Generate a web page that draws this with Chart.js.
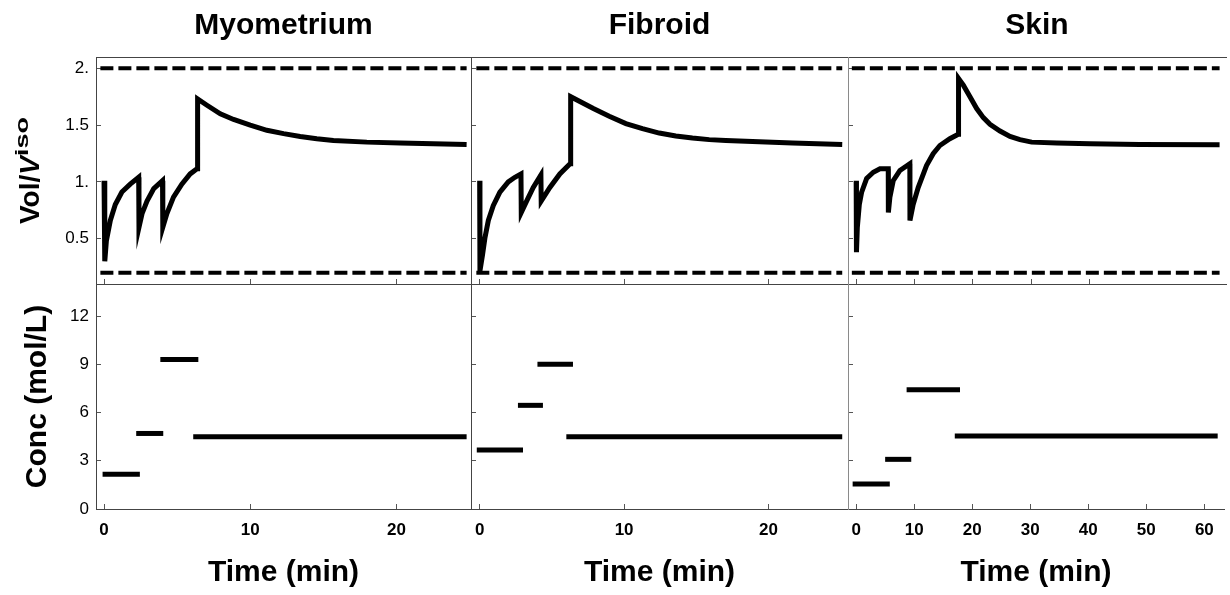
<!DOCTYPE html>
<html>
<head>
<meta charset="utf-8">
<title>Vol/Viso and Conc vs Time</title>
<script src="https://cdn.jsdelivr.net/npm/chart.js@4.4.1/dist/chart.umd.min.js"></script>
<style>
  html, body { margin: 0; padding: 0; background: #fff; }
  #wrap { position: relative; width: 1230px; height: 595px; overflow: hidden; }
  #wrap canvas { position: absolute; left: 0; top: 0; }
</style>
</head>
<body>
<div id="wrap">
  <canvas id="myo-vol" width="1230" height="595"></canvas>
  <canvas id="fib-vol" width="1230" height="595"></canvas>
  <canvas id="skin-vol" width="1230" height="595"></canvas>
  <canvas id="myo-conc" width="1230" height="595"></canvas>
  <canvas id="fib-conc" width="1230" height="595"></canvas>
  <canvas id="skin-conc" width="1230" height="595"></canvas>
</div>
<script>
// Panel titles
const tissues = ['Myometrium', 'Fibroid', 'Skin'];

// Relative cell volume (Vol/Viso) over time
const myoTime = [0, 0.05, 0.16, 0.43, 0.77, 1.22, 1.79, 2.37, 2.39, 2.6, 2.94, 3.4, 4.0, 4.02, 4.3, 4.75, 5.32, 5.89, 6.36, 6.4, 7.04, 7.95, 8.86, 10.0, 11.14, 12.28, 13.42, 14.55, 15.69, 17.97, 20.25, 24.8];
const myoVol = [1.01, 0.3, 0.48, 0.66, 0.8, 0.91, 0.98, 1.04, 0.6, 0.72, 0.83, 0.94, 1.01, 0.6, 0.72, 0.865, 0.98, 1.07, 1.115, 1.73, 1.675, 1.6, 1.55, 1.5, 1.454, 1.425, 1.4, 1.38, 1.365, 1.35, 1.342, 1.33];

const fibTime = [0, 0.02, 0.2, 0.37, 0.6, 0.94, 1.4, 1.98, 2.44, 2.86, 2.88, 3.25, 3.71, 4.24, 4.26, 4.86, 5.55, 6.26, 6.3, 7.87, 8.97, 10.12, 11.27, 12.43, 13.58, 14.73, 15.89, 17.04, 19.35, 21.66, 25.1];
const fibVol = [1.01, 0.215, 0.36, 0.51, 0.66, 0.79, 0.91, 1.0, 1.04, 1.07, 0.73, 0.83, 0.95, 1.06, 0.83, 0.95, 1.07, 1.16, 1.75, 1.646, 1.578, 1.513, 1.469, 1.43, 1.404, 1.386, 1.372, 1.365, 1.354, 1.342, 1.33];

const skinTime = [0, 0.05, 0.2, 0.54, 0.94, 1.8, 2.94, 4.08, 5.5, 5.52, 5.78, 6.35, 7.5, 9.2, 9.22, 9.77, 10.63, 12.06, 13.2, 14.35, 16.06, 17.5, 17.55, 18.37, 19.51, 20.66, 21.8, 22.94, 24.66, 26.37, 28.08, 30.08, 34.4, 40.1, 48.6, 62.3];
const skinVol = [1.01, 0.38, 0.6, 0.8, 0.91, 1.03, 1.085, 1.115, 1.115, 0.73, 0.865, 1.01, 1.1, 1.16, 0.66, 0.8, 0.95, 1.144, 1.248, 1.32, 1.38, 1.42, 1.91, 1.852, 1.75, 1.646, 1.566, 1.507, 1.448, 1.4, 1.372, 1.35, 1.342, 1.336, 1.33, 1.327];

// Osmotic tolerance limits (dashed lines) and how far they run on each panel
const volLimits = [0.2, 2.0];
const myoLimitSpan = [-0.25, 24.8];
const fibLimitSpan = [-0.23, 25.1];
const skinLimitSpan = [-0.74, 62.3];

// CPA concentration steps: start time, end time, level (mol/L)
const myoConcStart = [-0.1, 2.2, 3.85, 6.1];
const myoConcEnd = [2.45, 4.05, 6.45, 24.8];
const myoConcLevel = [2.16, 4.7, 9.3, 4.49];

const fibConcStart = [-0.2, 2.65, 4.0, 6.0];
const fibConcEnd = [3.0, 4.38, 6.46, 25.1];
const fibConcLevel = [3.67, 6.45, 9.0, 4.49];

const skinConcStart = [-0.6, 5.0, 8.7, 17.0];
const skinConcEnd = [5.8, 9.5, 17.9, 62.3];
const skinConcLevel = [1.56, 3.09, 7.42, 4.55];

// Axis ranges and ticks
const volRange = [0.1, 2.1];
const volTicks = [0.5, 1, 1.5, 2];
const volTickLabels = ['0.5', '1.', '1.5', '2.'];
const concRange = [0, 14];
const concTicks = [0, 3, 6, 9, 12];
const concTickLabels = ['0', '3', '6', '9', '12'];
const myoTimeRange = [-0.55, 25.1];
const fibTimeRange = [-0.6, 25.5];
const skinTimeRange = [-1.4, 63.4];
const shortTimeTicks = [0, 10, 20];
const shortTimeLabels = ['0', '10', '20'];
const skinTimeTicks = [0, 10, 20, 30, 40, 50, 60];
const skinTimeLabels = ['0', '10', '20', '30', '40', '50', '60'];
const skinVolTimeTicks = [0, 10, 20, 30, 40];

// page layout (pixels)
const W = 1230, H = 595;
const TOP = 57, MID = 284, BOT = 509;
const COLS = [[96, 471], [471, 848], [848, 1226]];
const FONT = 'Arial, "Liberation Sans", Helvetica, sans-serif';
const FRAME = '#444';
const SEP3 = '#8a8a8a';
const TICK = '#555';

Chart.defaults.font.family = FONT;
Chart.defaults.color = '#000';

function points(xs, ys) {
    return xs.map((x, i) => ({ x: x, y: ys[i] }));
}

// force an axis to a fixed thickness so the panels line up
function setSize(px) {
    return (scale) => {
        if (scale.isHorizontal()) scale.height = px;
        else scale.width = px;
    };
}

function useTicks(values) {
    return (scale) => { scale.ticks = values.map(v => ({ value: v })); };
}

// small inward tick marks, no grid
const innerTicks = {
    display: true,
    drawOnChartArea: false,
    drawTicks: true,
    tickLength: -5,
    color: TICK,
    lineWidth: 1
};

// "Vol/V^iso" y label, italic V and superscript iso
const volLabelPlugin = {
    id: 'volLabel',
    afterDraw(chart) {
        const { ctx, chartArea } = chart;
        const parts = [
            { text: 'Vol/', font: 'bold 28px ' + FONT, shift: 0, stretch: 1 },
            { text: 'V', font: 'italic bold 28px ' + FONT, shift: 0, stretch: 1 },
            { text: 'iso', font: 'bold 18px ' + FONT, shift: -11, stretch: 1.5 }
        ];
        let total = 0;
        parts.forEach(p => {
            ctx.font = p.font;
            p.w = ctx.measureText(p.text).width * p.stretch;
            total += p.w;
        });
        ctx.save();
        ctx.translate(39, (chartArea.top + chartArea.bottom) / 2);
        ctx.rotate(-Math.PI / 2);
        ctx.fillStyle = '#000';
        ctx.textBaseline = 'alphabetic';
        ctx.textAlign = 'left';
        let x = -total / 2;
        parts.forEach(p => {
            ctx.save();
            ctx.font = p.font;
            ctx.translate(x, p.shift);
            ctx.scale(p.stretch, 1);
            ctx.fillText(p.text, 0, 0);
            ctx.restore();
            x += p.w;
        });
        ctx.restore();
    }
};

function volConfig(col, time, vol, timeRange, timeTicks, limitSpan) {
    const [left, right] = COLS[col];
    const yW = col === 0 ? left : 0;
    const limits = volLimits.map(v => ({
        data: points(limitSpan, [v, v]),
        borderColor: '#000',
        borderWidth: 4,
        borderDash: [13, 5],
        pointRadius: 0
    }));
    return {
        type: 'line',
        data: {
            datasets: [
                {
                    label: tissues[col],
                    data: points(time, vol),
                    borderColor: '#000',
                    borderWidth: 5,
                    borderJoinStyle: 'miter',
                    pointRadius: 0,
                    tension: 0
                },
                ...limits
            ]
        },
        options: {
            responsive: false,
            animation: false,
            events: [],
            layout: { padding: { left: left - yW, right: W - right, top: 0, bottom: H - MID } },
            plugins: {
                legend: { display: false },
                tooltip: { enabled: false },
                title: {
                    display: true,
                    text: tissues[col],
                    fullSize: false,
                    color: '#000',
                    font: { size: 30, weight: 'bold' },
                    padding: { top: 8, bottom: 13 }
                }
            },
            scales: {
                x: {
                    type: 'linear',
                    min: timeRange[0],
                    max: timeRange[1],
                    afterFit: setSize(0),
                    afterBuildTicks: useTicks(timeTicks),
                    ticks: { display: false },
                    grid: innerTicks,
                    border: { color: FRAME, width: 1 }
                },
                xTop: {
                    type: 'linear',
                    position: 'top',
                    min: timeRange[0],
                    max: timeRange[1],
                    afterFit: setSize(0),
                    ticks: { display: false },
                    grid: { display: false },
                    border: { color: FRAME, width: 1 }
                },
                y: {
                    min: volRange[0],
                    max: volRange[1],
                    afterFit: setSize(yW),
                    afterBuildTicks: useTicks(volTicks),
                    ticks: {
                        display: col === 0,
                        font: { size: 17 },
                        padding: 12,
                        callback: (v, i) => volTickLabels[i]
                    },
                    grid: innerTicks,
                    border: { color: col === 2 ? SEP3 : FRAME, width: 1 }
                }
            }
        },
        plugins: col === 0 ? [volLabelPlugin] : []
    };
}

function concConfig(col, start, end, level, timeRange, timeTicks, timeLabels) {
    const [left, right] = COLS[col];
    const yW = col === 0 ? left : 0;
    const steps = level.map((c, i) => ({
        data: points([start[i], end[i]], [c, c]),
        borderColor: '#000',
        borderWidth: 5,
        borderCapStyle: 'butt',
        pointRadius: 0
    }));
    return {
        type: 'line',
        data: { datasets: steps },
        options: {
            responsive: false,
            animation: false,
            events: [],
            layout: { padding: { left: left - yW, right: W - right, top: MID, bottom: 0 } },
            plugins: {
                legend: { display: false },
                tooltip: { enabled: false }
            },
            scales: {
                x: {
                    type: 'linear',
                    min: timeRange[0],
                    max: timeRange[1],
                    afterFit: setSize(H - BOT),
                    afterBuildTicks: useTicks(timeTicks),
                    ticks: {
                        font: { size: 17, weight: 'bold' },
                        padding: 16,
                        maxRotation: 0,
                        autoSkip: false,
                        callback: (v, i) => timeLabels[i]
                    },
                    grid: innerTicks,
                    border: { color: FRAME, width: 1 },
                    title: {
                        display: true,
                        text: 'Time (min)',
                        color: '#000',
                        font: { size: 30, weight: 'bold' },
                        padding: { top: 0, bottom: 4 }
                    }
                },
                y: {
                    min: concRange[0],
                    max: concRange[1],
                    afterFit: setSize(yW),
                    afterBuildTicks: useTicks(concTicks),
                    ticks: {
                        display: col === 0,
                        font: { size: 17 },
                        padding: 12,
                        callback: (v, i) => concTickLabels[i]
                    },
                    grid: innerTicks,
                    border: { color: col === 2 ? SEP3 : FRAME, width: 1 },
                    title: {
                        display: col === 0,
                        text: 'Conc (mol/L)',
                        color: '#000',
                        font: { size: 30, weight: 'bold' },
                        padding: { top: 20, bottom: 0 }
                    }
                }
            }
        }
    };
}

new Chart(document.getElementById('myo-vol'), volConfig(0, myoTime, myoVol, myoTimeRange, shortTimeTicks, myoLimitSpan));
new Chart(document.getElementById('fib-vol'), volConfig(1, fibTime, fibVol, fibTimeRange, shortTimeTicks, fibLimitSpan));
new Chart(document.getElementById('skin-vol'), volConfig(2, skinTime, skinVol, skinTimeRange, skinVolTimeTicks, skinLimitSpan));

new Chart(document.getElementById('myo-conc'), concConfig(0, myoConcStart, myoConcEnd, myoConcLevel, myoTimeRange, shortTimeTicks, shortTimeLabels));
new Chart(document.getElementById('fib-conc'), concConfig(1, fibConcStart, fibConcEnd, fibConcLevel, fibTimeRange, shortTimeTicks, shortTimeLabels));
new Chart(document.getElementById('skin-conc'), concConfig(2, skinConcStart, skinConcEnd, skinConcLevel, skinTimeRange, skinTimeTicks, skinTimeLabels));
</script>
</body>
</html>
